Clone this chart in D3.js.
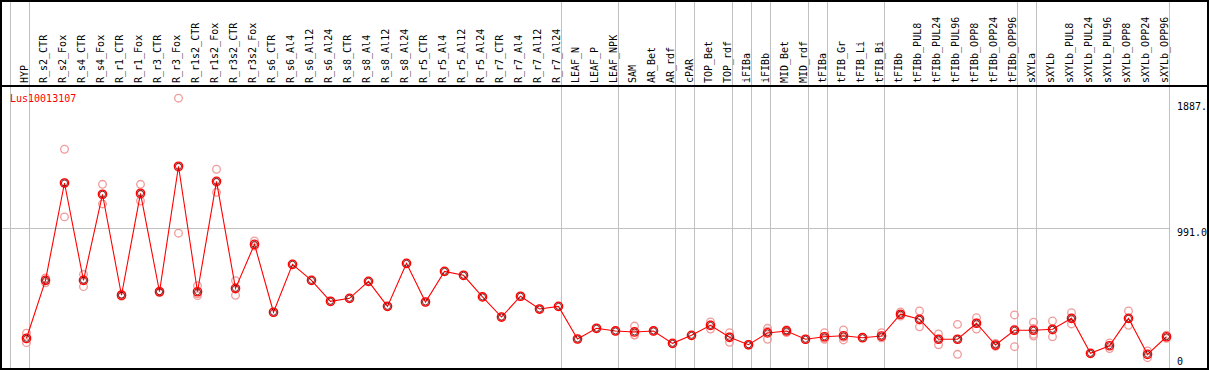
<!DOCTYPE html>
<meta charset="utf-8">
<style>
  body { margin: 0; background: #fff; }
  text { font-family: "DejaVu Sans Mono", monospace; font-size: 10px; }
</style>
<body>
<script src="https://d3js.org/d3.v7.min.js"></script>
<script>

var geneName = "Lus10013107";

var samples = ["HYP", "R_s2_CTR", "R_s2_Fox", "R_s4_CTR", "R_s4_Fox", "R_r1_CTR", "R_r1_Fox",
  "R_r3_CTR", "R_r3_Fox", "R_r1s2_CTR", "R_r1s2_Fox", "R_r3s2_CTR", "R_r3s2_Fox",
  "R_s6_CTR", "R_s6_Al4", "R_s6_Al12", "R_s6_Al24", "R_s8_CTR", "R_s8_Al4", "R_s8_Al12", "R_s8_Al24",
  "R_r5_CTR", "R_r5_Al4", "R_r5_Al12", "R_r5_Al24", "R_r7_CTR", "R_r7_Al4", "R_r7_Al12", "R_r7_Al24",
  "LEAF_N", "LEAF_P", "LEAF_NPK", "SAM", "AR_Bet", "AR_rdf", "cPAR", "TOP_Bet", "TOP_rdf",
  "iFIBa", "iFIBb", "MID_Bet", "MID_rdf", "tFIBa", "tFIB_Gr", "tFIB_Li", "tFIB_Bi", "tFIBb",
  "tFIBb_PUL8", "tFIBb_PUL24", "tFIBb_PUL96", "tFIBb_OPP8", "tFIBb_OPP24", "tFIBb_OPP96",
  "sXYLa", "sXYLb", "sXYLb_PUL8", "sXYLb_PUL24", "sXYLb_PUL96", "sXYLb_OPP8", "sXYLb_OPP24", "sXYLb_OPP96"];

// mean expression per sample
var means = [207, 619, 1311, 619, 1231, 513, 1238, 538, 1430, 538, 1323, 562, 875,
  392, 733, 619, 470, 491, 612, 434, 740, 465, 683, 655, 501, 358, 506, 415, 434,
  202, 278, 259, 252, 259, 171, 228, 299, 214, 161, 245, 259, 200, 218, 225, 211, 223, 378,
  342, 200, 200, 314, 159, 264, 264, 271, 349, 100, 154, 349, 93, 218];

// individual replicates
var reps = [[243, 176, 203], [602, 636, 619], [1551, 1070, 1312], [662, 574, 621], [1302, 1162, 1229],
  [505, 521, 513], [1302, 1183, 1229], [532, 544, 538], [1914, 954, 1422], [581, 510, 523],
  [1409, 1245, 1315], [617, 513, 556], [899, 862, 864],
  [392], [733], [619], [470], [491], [612], [434], [740], [465], [683], [655], [501], [358], [506], [415], [434],
  [202], [278], [259], [294, 230, 232], [259], [171], [228], [323, 273, 301], [247, 178, 217],
  [158, 164], [278, 200, 257], [247, 262, 268], [200], [247, 200, 207], [266, 195, 214], [211],
  [247, 212, 210], [394, 365, 375], [401, 289, 336], [238, 161, 201], [306, 93, 201], [353, 273, 316],
  [171, 150, 156], [373, 147, 272], [321, 223, 235, 277], [330, 218, 265], [389, 309, 349], [100],
  [174, 134], [401, 299, 347], [117, 69], [207, 229]];

// group separators drawn after these samples
var groupEnds = ["HYP", "R_r7_Al24", "LEAF_NPK", "AR_rdf", "cPAR", "TOP_rdf", "iFIBa", "iFIBb",
  "MID_rdf", "tFIBa", "tFIB_Bi", "tFIBb_OPP96", "sXYLa", "sXYLb_OPP96"];

var yTicks = [0, 991.0, 1887.0];
var yTickLabels = ["0", "991.0", "1887."];

var W = 1209, H = 370;

var svg = d3.select("body").append("svg")
    .attr("width", W)
    .attr("height", H);

var x = d3.scaleBand()
    .domain(samples)
    .range([11, 11 + 19 * samples.length]);

var y = d3.scaleLinear()
    .domain([0, 1887])
    .range([367.4, 102]);

var px = function(s) { return x(s) + 15.5; };

var grey = "#c0c0c0";

// vertical separators
svg.append("line")
    .attr("x1", 10.5).attr("x2", 10.5).attr("y1", 0).attr("y2", H)
    .attr("stroke", grey);
svg.selectAll(".sep")
    .data(groupEnds)
  .enter().append("line")
    .attr("class", "sep")
    .attr("x1", function(d) { return x(d) + x.bandwidth() - 0.5; })
    .attr("x2", function(d) { return x(d) + x.bandwidth() - 0.5; })
    .attr("y1", 0).attr("y2", H)
    .attr("stroke", grey);

// mid gridline
svg.append("line")
    .attr("x1", 0).attr("x2", x.range()[1] - 1)
    .attr("y1", Math.round(y(yTicks[1])) + 0.5).attr("y2", Math.round(y(yTicks[1])) + 0.5)
    .attr("stroke", grey);

// sample labels
svg.selectAll(".lab")
    .data(samples)
  .enter().append("text")
    .attr("class", "lab")
    .attr("transform", function(d) {
      return "translate(" + (x(d) + x.bandwidth() - 2) + ",83) rotate(-90)";
    })
    .attr("fill", "#000")
    .text(function(d) { return d; });

// header line + frame
svg.append("line")
    .attr("x1", 0).attr("x2", W).attr("y1", 86).attr("y2", 86)
    .attr("stroke", "#000").attr("stroke-width", 2);
svg.append("rect")
    .attr("x", 1).attr("y", 1).attr("width", W - 2).attr("height", H - 2)
    .attr("fill", "none").attr("stroke", "#000").attr("stroke-width", 2);

svg.append("text")
    .attr("x", 10).attr("y", 101.5)
    .attr("fill", "red")
    .text(geneName);

// right-side value labels
svg.append("g")
  .selectAll("text")
    .data(yTicks)
  .enter().append("text")
    .attr("x", 1177)
    .attr("y", function(d) { return Math.min(y(d) + 8, 365); })
    .text(function(d, i) { return yTickLabels[i]; });

// replicate points
var repPts = [];
samples.forEach(function(s, i) {
  reps[i].forEach(function(v) { repPts.push({s: s, v: v}); });
});
svg.append("g").selectAll("circle")
    .data(repPts)
  .enter().append("circle")
    .attr("cx", function(d) { return px(d.s); })
    .attr("cy", function(d) { return y(d.v); })
    .attr("r", 3.8)
    .attr("fill", "none")
    .attr("stroke", "#f09a9a")
    .attr("stroke-width", 1.3);

// mean line
var line = d3.line()
    .x(function(d, i) { return px(samples[i]); })
    .y(function(d) { return y(d); });

svg.append("path")
    .datum(means)
    .attr("d", line)
    .attr("fill", "none")
    .attr("stroke", "red")
    .attr("stroke-width", 1.1);

var mg = svg.append("g");
mg.selectAll(".mk")
    .data(means)
  .enter().append("circle")
    .attr("class", "mk")
    .attr("cx", function(d, i) { return px(samples[i]); })
    .attr("cy", function(d) { return y(d); })
    .attr("r", 3)
    .attr("fill", "none")
    .attr("stroke", "#400")
    .attr("stroke-width", 0.8);
mg.selectAll(".mr")
    .data(means)
  .enter().append("circle")
    .attr("class", "mr")
    .attr("cx", function(d, i) { return px(samples[i]); })
    .attr("cy", function(d) { return y(d); })
    .attr("r", 4.2)
    .attr("fill", "none")
    .attr("stroke", "red")
    .attr("stroke-width", 1.3);

</script>
</body>
